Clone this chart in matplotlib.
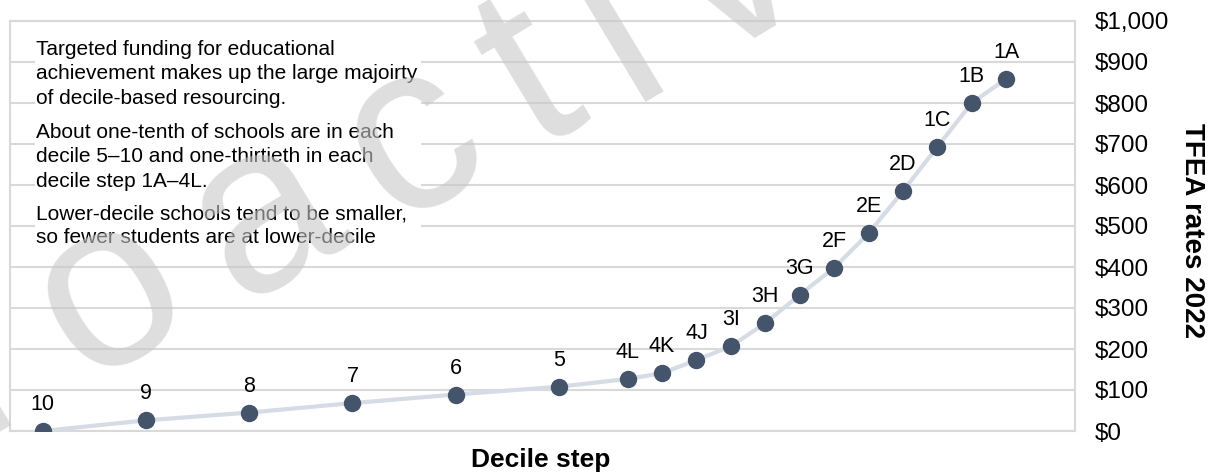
import numpy as np
import matplotlib.pyplot as plt
from matplotlib.patches import Rectangle

plt.rcParams['font.family'] = ['Liberation Sans', 'DejaVu Sans']

# decile steps, low to high funding
steps = ['10', '9', '8', '7', '6', '5', '4L', '4K', '4J', '3I', '3H', '3G',
         '2F', '2E', '2D', '1C', '1B', '1A']
# share of schools per step in thirtieths (deciles 5-10 = 3, steps 1A-4L = 1)
width = [3, 3, 3, 3, 3, 2, 1, 1, 1, 1, 1, 1, 1, 1, 1, 1, 1, 1]
rates = [0, 26, 45, 68, 89, 108, 127, 141, 173, 207, 263, 332, 398, 482, 585, 693, 800, 859]
yticks = [0, 100, 200, 300, 400, 500, 600, 700, 800, 900, 1000]

notes = [
    'Targeted funding for educational\nachievement makes up the large majoirty\nof decile-based resourcing.',
    'About one-tenth of schools are in each\ndecile 5\u201310 and one-thirtieth in each\ndecile step 1A\u20134L.',
    'Lower-decile schools tend to be smaller,\nso fewer students are at lower-decile',
]

# x position = cumulative share of schools
xpos = [0]
for w in width[:-1]:
    xpos.append(xpos[-1] + w)

W, H = 1209, 472
fig = plt.figure(figsize=(W / 100, H / 100), dpi=100)
ax = fig.add_axes([10 / W, 1 - 431 / H, (1075 - 10) / W, (431 - 21) / H])

ax.plot(xpos, rates, color='#D6DCE5', lw=3, zorder=3, solid_capstyle='round')
ax.plot(xpos, rates, 'o', color='#44546A', ms=11.5, zorder=4)
for x, y, s in zip(xpos, rates, steps):
    ax.annotate(s, (x, y), xytext=(0, 19), textcoords='offset points',
                ha='center', va='center', fontsize=15.5, zorder=5)

ax.set_xlim(-0.95, 30)
ax.set_ylim(0, 1000)
ax.set_yticks(yticks)
ax.set_yticklabels(['${:,}'.format(v) for v in yticks], fontsize=17.5)
ax.yaxis.tick_right()
ax.tick_params(axis='y', length=0, pad=14)
ax.set_xticks([])
ax.grid(axis='y', color='#D9D9D9', lw=1.5)
ax.set_axisbelow(True)
for sp in ax.spines.values():
    sp.set_color('#D9D9D9')
    sp.set_linewidth(1.5)

# white box behind the notes
ax.add_patch(Rectangle((35 / W, 1 - 250 / H), 386 / W, 220 / H,
                       transform=fig.transFigure, facecolor='white',
                       edgecolor='none', zorder=1.5))
note_y = [40, 123, 204]
for t, yy in zip(notes, note_y):
    fig.text(36 / W, 1 - yy / H, t, fontsize=15, va='top', ha='left',
             linespacing=1.36, zorder=6)

fig.text(541 / W, 1 - 460 / H, 'Decile step', ha='center', va='center',
         fontsize=19, fontweight='bold')
fig.text(1192 / W, 1 - 231 / H, 'TFEA rates 2022', ha='center', va='center',
         rotation=270, fontsize=20, fontweight='bold')

# faint watermark, letters laid along a slanted baseline
wm = 'roactive'
adv = [0.333, 0.556, 0.556, 0.5, 0.278, 0.222, 0.5, 0.556]
em, track, path_ang, rot = 240, 40, np.radians(27), np.radians(31)
along = np.array([np.cos(path_ang), -np.sin(path_ang)])
down = np.array([np.sin(rot), np.cos(rot)])
o_c = np.array([110, 295])
cent = [0.0]
for a, b in zip(adv[:-1], adv[1:]):
    cent.append(cent[-1] + (a + b) / 2 * em + track)
cent = np.array(cent) - cent[1]
for ch, d in zip(wm, cent):
    p = o_c + d * along + 0.26 * em * down
    fig.text(p[0] / W, 1 - p[1] / H, ch, ha='center', va='baseline',
             rotation=np.degrees(rot), rotation_mode='anchor',
             fontsize=em * 0.72, color='#C8C8C8', alpha=0.6, zorder=10)

fig.savefig('out.png', dpi=100)
